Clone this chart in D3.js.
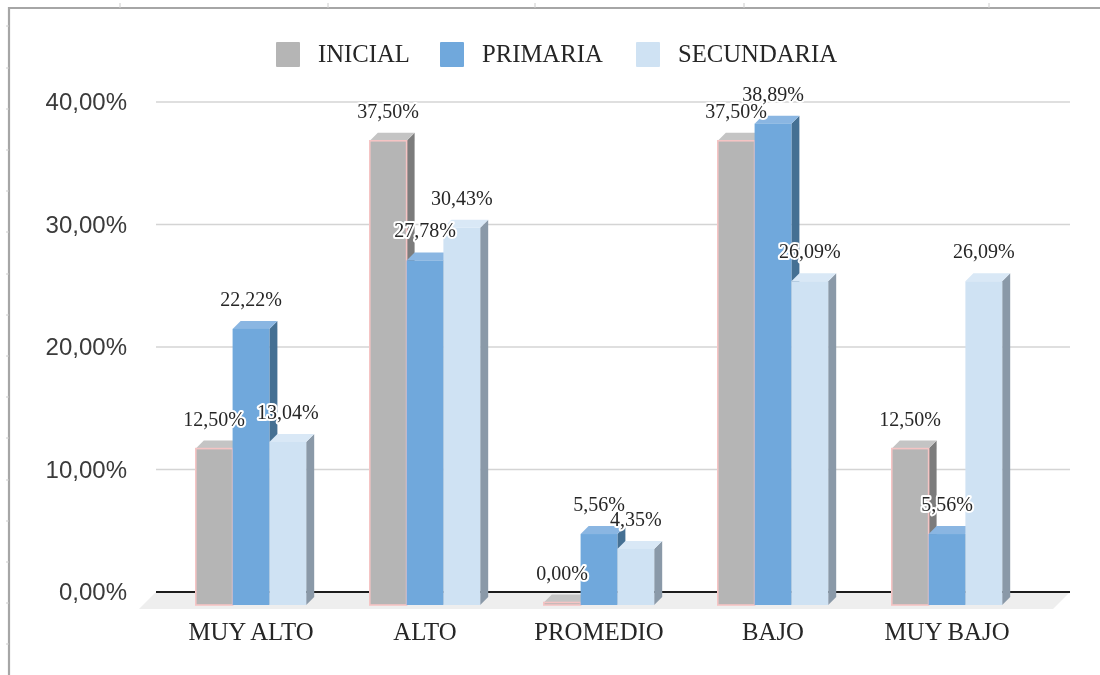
<!DOCTYPE html>
<html>
<head>
<meta charset="utf-8">
<script src="https://cdn.jsdelivr.net/npm/d3@7/dist/d3.min.js"></script>
<style>
html, body { margin: 0; padding: 0; background: #fff; overflow: hidden; }
</style>
</head>
<body>
<div id="chart"></div>
<script>
var categories = ["MUY ALTO", "ALTO", "PROMEDIO", "BAJO", "MUY BAJO"];
var seriesNames = ["INICIAL", "PRIMARIA", "SECUNDARIA"];
var inicial = [12.50, 37.50, 0.00, 37.50, 12.50];
var primaria = [22.22, 27.78, 5.56, 38.89, 5.56];
var secundaria = [13.04, 30.43, 4.35, 26.09, 26.09];
var yTicks = [0, 10, 20, 30, 40];
var rulerTop = [120, 328, 535, 744, 989];
var rulerLeft = [26, 68, 109, 150, 191, 232, 274, 315, 356, 397, 438, 480, 521, 562, 603, 644];

var seriesValues = [inicial, primaria, secundaria];
var colors = ["#b5b5b5", "#6fa8dc", "#cfe2f3"];
var topColors = ["#c4c4c4", "#8ab6e2", "#d9e8f6"];
var sideColors = ["#7c7c7c", "#456f93", "#8a99a8"];
var depth = 8;

var width = 1100, height = 675;
var fmt = function(v){ return v.toFixed(2).replace(".", ",") + "%"; };

var svg = d3.select("#chart").append("svg")
	.attr("width", width)
	.attr("height", height);

var root = svg.append("g").attr("filter", "url(#soft)");
svg.append("defs").append("filter").attr("id", "soft")
	.attr("x", 0).attr("y", 0)
	.attr("filterUnits", "userSpaceOnUse")
	.attr("width", width).attr("height", height)
	.append("feGaussianBlur").attr("stdDeviation", 0.45);

// outer frame and the little marks around it
root.append("path")
	.attr("d", "M9,675V8H1100")
	.attr("fill", "none")
	.attr("stroke", "#a6a6a6")
	.attr("stroke-width", 2.2);
root.selectAll(".rulerTop").data(rulerTop).enter().append("line")
	.attr("class", "rulerTop")
	.attr("x1", function(d){ return d; }).attr("x2", function(d){ return d; })
	.attr("y1", 3).attr("y2", 8)
	.attr("stroke", "#cccccc");
root.selectAll(".rulerLeft").data(rulerLeft).enter().append("line")
	.attr("class", "rulerLeft")
	.attr("y1", function(d){ return d; }).attr("y2", function(d){ return d; })
	.attr("x1", 6).attr("x2", 9)
	.attr("stroke", "#cccccc");

// back wall uses one scale, the front of the bars another
var yBack = d3.scaleLinear().domain([0, 40]).range([592, 102]);
var yFront = d3.scaleLinear().domain([0, 40]).range([602.5, 110]);
var baseY = 605;

var x0 = d3.scaleBand().domain(categories).range([164, 1034]);
var x1 = d3.scaleBand().domain(seriesNames).range([0, x0.bandwidth()]).paddingInner(0).paddingOuter(0.864);

// floor
var floorFront = 609, floorBack = yBack(0);
root.append("polygon")
	.attr("points", [[139, floorFront], [156, floorBack], [1070, floorBack], [1053, floorFront]].join(" "))
	.attr("fill", "#eeeeee");

// gridlines
root.selectAll(".grid").data(yTicks).enter().append("line")
	.attr("class", "grid")
	.attr("x1", 156).attr("x2", 1070)
	.attr("y1", function(d){ return yBack(d); })
	.attr("y2", function(d){ return yBack(d); })
	.attr("stroke", function(d){ return d === 0 ? "#1f1f1f" : "#d4d4d4"; })
	.attr("stroke-width", function(d){ return d === 0 ? 2 : 1.5; });

// y axis labels
root.selectAll(".ytick").data(yTicks).enter().append("text")
	.attr("class", "ytick")
	.attr("x", 127)
	.attr("y", function(d){ return yBack(d) + 8; })
	.attr("text-anchor", "end")
	.style("font-family", "'Liberation Sans', Arial, sans-serif")
	.style("font-size", "24px")
	.style("fill", "#3a3a3a")
	.text(fmt);

// bars
var groups = root.selectAll(".group").data(categories).enter().append("g")
	.attr("class", "group")
	.attr("transform", function(d){ return "translate(" + x0(d) + ",0)"; });

seriesNames.forEach(function(name, s){
	var w = x1.bandwidth();
	var bars = groups.append("g")
		.datum(function(d, i){ return { name: name, s: s, v: seriesValues[s][i] }; });

	bars.append("polygon") // side
		.attr("points", function(d){
			var a = x1(name) + w, t = yFront(d.v);
			return [[a, t], [a + depth, t - depth], [a + depth, baseY - depth], [a, baseY]].join(" ");
		})
		.attr("fill", sideColors[s]);

	bars.append("polygon") // top
		.attr("points", function(d){
			var a = x1(name), t = yFront(d.v);
			return [[a, t], [a + depth, t - depth], [a + w + depth, t - depth], [a + w, t]].join(" ");
		})
		.attr("fill", topColors[s]);

	bars.append("rect") // front
		.attr("x", x1(name))
		.attr("y", function(d){ return yFront(d.v); })
		.attr("width", w)
		.attr("height", function(d){ return baseY - yFront(d.v); })
		.attr("fill", colors[s])
		.attr("stroke", s === 0 ? "#f5c4c4" : "none")
		.attr("stroke-width", s === 0 ? 1.6 : 0);
});

// value labels go over every bar, with a white halo
seriesNames.forEach(function(name, s){
	root.selectAll(".lab" + s).data(categories).enter().append("text")
		.attr("class", "lab" + s)
		.attr("x", function(d){ return x0(d) + x1(name) + x1.bandwidth() / 2; })
		.attr("y", function(d, i){ return yFront(seriesValues[s][i]) - depth - 15; })
		.attr("text-anchor", "middle")
		.style("font-family", "'Liberation Serif', 'Times New Roman', serif")
		.style("font-size", "20px")
		.style("fill", "#262626")
		.style("stroke", "#ffffff")
		.style("stroke-width", 4)
		.style("stroke-linejoin", "round")
		.style("paint-order", "stroke")
		.text(function(d, i){ return fmt(seriesValues[s][i]); });
});

// category labels
root.selectAll(".cat").data(categories).enter().append("text")
	.attr("class", "cat")
	.attr("x", function(d){ return x0(d) + x0.bandwidth() / 2; })
	.attr("y", 640)
	.attr("text-anchor", "middle")
	.style("font-family", "'Liberation Serif', 'Times New Roman', serif")
	.style("font-size", "24.8px")
	.style("fill", "#262626")
	.text(function(d){ return d; });

// legend
var legendX = [276, 440, 636];
var legend = root.selectAll(".legend").data(seriesNames).enter().append("g")
	.attr("class", "legend")
	.attr("transform", function(d, i){ return "translate(" + legendX[i] + ",42)"; });
legend.append("rect")
	.attr("width", 24).attr("height", 25).attr("rx", 1)
	.attr("fill", function(d, i){ return colors[i]; });
legend.append("text")
	.attr("x", 42).attr("y", 20)
	.style("font-family", "'Liberation Serif', 'Times New Roman', serif")
	.style("font-size", "24.7px")
	.style("fill", "#262626")
	.text(function(d){ return d; });
</script>
</body>
</html>
